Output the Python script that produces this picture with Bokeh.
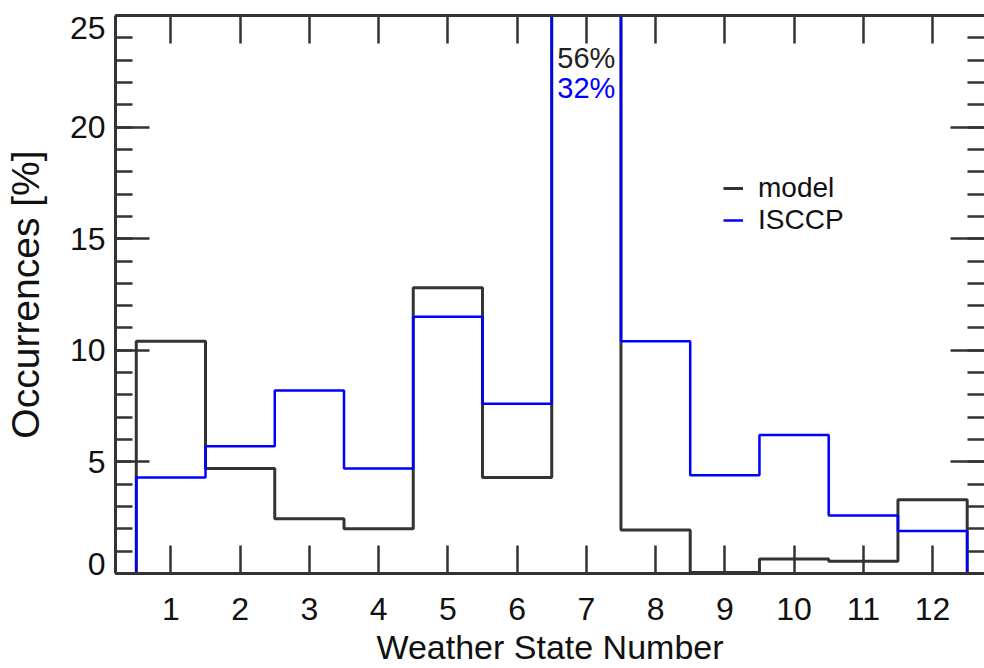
from bokeh.plotting import figure
from bokeh.models import (LinearAxis, FixedTicker, Legend, LegendItem,
                          CustomJSTickFormatter)
from bokeh.core.properties import value
from bokeh.embed import file_html
from bokeh.resources import INLINE

# ---- data ----
states = [1, 2, 3, 4, 5, 6, 7, 8, 9, 10, 11, 12]
model = [10.4, 4.7, 2.45, 2.0, 12.8, 4.3, 56.0, 1.95, 0.05, 0.65, 0.55, 3.3]
isccp = [4.3, 5.7, 8.2, 4.7, 11.5, 7.6, 32.0, 10.4, 4.4, 6.2, 2.6, 1.9]
y_ticks = [0, 5, 10, 15, 20, 25]
series_names = ["model", "ISCCP"]
x_title = "Weather State Number"
y_title = "Occurrences [%]"

X_LO, X_HI = 0.2, 12.75
Y_LO, Y_HI = 0, 25
FONT = "Liberation Sans"
AX = "#333333"
BLUE = "#0000ff"
TXT = "#111111"


def step_path(cats, vals):
    xs, ys = [X_LO, cats[0] - 0.5], [0.0, 0.0]
    for c, v in zip(cats, vals):
        xs += [c - 0.5, c + 0.5]
        ys += [v, v]
    xs += [cats[-1] + 0.5, X_HI]
    ys += [0.0, 0.0]
    return xs, ys


p = figure(width=984, height=668, x_range=(X_LO, X_HI), y_range=(Y_LO, Y_HI),
           output_backend="svg", toolbar_location=None,
           min_border_left=113, min_border_right=0, min_border_top=15,
           min_border_bottom=95)
p.outline_line_color = None
p.grid.visible = False
p.background_fill_color = "white"

mx, my = step_path(states, model)
ix, iy = step_path(states, isccp)
r_model = p.line(mx, my, line_color=AX, line_width=3)
r_isccp = p.line(ix, iy, line_color=BLUE, line_width=2.5)

# annotation of the off-scale bin
peak = states.index(7)
p.text(x=[states[peak]], y=[Y_HI], text=[f"{model[peak]:.0f}%"],
       text_font=value(FONT), text_font_size="29px", text_color="#222222",
       text_align="center", text_baseline="middle", y_offset=42)
p.text(x=[states[peak]], y=[Y_HI], text=[f"{isccp[peak]:.0f}%"],
       text_font=value(FONT), text_font_size="29px", text_color=BLUE,
       text_align="center", text_baseline="middle", y_offset=72)

blank = CustomJSTickFormatter(code="return ''")
minor_y = list(range(Y_LO, Y_HI + 1))

xa = p.xaxis[0]
xa.ticker = FixedTicker(ticks=states, minor_ticks=[])
xa.axis_label = x_title
ya = p.yaxis[0]
ya.ticker = FixedTicker(ticks=y_ticks, minor_ticks=minor_y)
ya.axis_label = y_title
# end labels pulled inside the frame span, as in the original
ya.major_label_overrides = {Y_HI: "\n" + str(Y_HI), Y_LO: str(Y_LO) + "\n\n"}

for a in (xa, ya):
    a.axis_line_color = AX
    a.axis_line_width = 3
    a.major_tick_line_color = AX
    a.major_tick_line_width = 2.5
    a.minor_tick_line_color = AX
    a.minor_tick_line_width = 2.5
    a.major_tick_out = 0
    a.minor_tick_out = 0
    a.major_label_text_font = FONT
    a.major_label_text_color = TXT
    a.axis_label_text_font = FONT
    a.axis_label_text_font_style = "normal"
    a.axis_label_text_color = TXT

xa.major_tick_in = 28
xa.major_label_text_font_size = "32px"
xa.major_label_standoff = 24
xa.axis_label_text_font_size = "34px"
xa.axis_label_standoff = 5

ya.major_tick_in = 34
ya.minor_tick_in = 17
ya.major_label_text_font_size = "32px"
ya.major_label_standoff = 10
ya.major_label_text_line_height = 0.27
ya.axis_label_text_font_size = "39px"
ya.axis_label_standoff = 20

top = LinearAxis(ticker=FixedTicker(ticks=states, minor_ticks=[]), formatter=blank,
                 axis_line_color=AX, axis_line_width=3,
                 major_tick_line_color=AX, major_tick_line_width=2.5,
                 major_tick_in=28, major_tick_out=0, minor_tick_in=0, minor_tick_out=0,
                 major_label_text_font_size="0px", major_label_standoff=0)
p.add_layout(top, "above")

right = LinearAxis(ticker=FixedTicker(ticks=y_ticks, minor_ticks=minor_y),
                   formatter=blank, axis_line_color=None,
                   major_tick_line_color=AX, major_tick_line_width=2.5,
                   minor_tick_line_color=AX, minor_tick_line_width=2.5,
                   major_tick_in=34, major_tick_out=0, minor_tick_in=17, minor_tick_out=0,
                   major_label_text_font_size="0px", major_label_standoff=0)
p.add_layout(right, "right")

legend = Legend(items=[LegendItem(label=series_names[0], renderers=[r_model]),
                       LegendItem(label=series_names[1], renderers=[r_isccp])],
                location=(608, 337), orientation="vertical",
                glyph_width=20, glyph_height=28, label_standoff=15,
                label_text_font=FONT, label_text_font_size="28px",
                label_height=28, spacing=-3, padding=0, margin=0,
                border_line_color=None, background_fill_alpha=0)
legend.label_text_color = TXT
p.add_layout(legend, "center")

open("out.html", "w").write(file_html(p, INLINE))
